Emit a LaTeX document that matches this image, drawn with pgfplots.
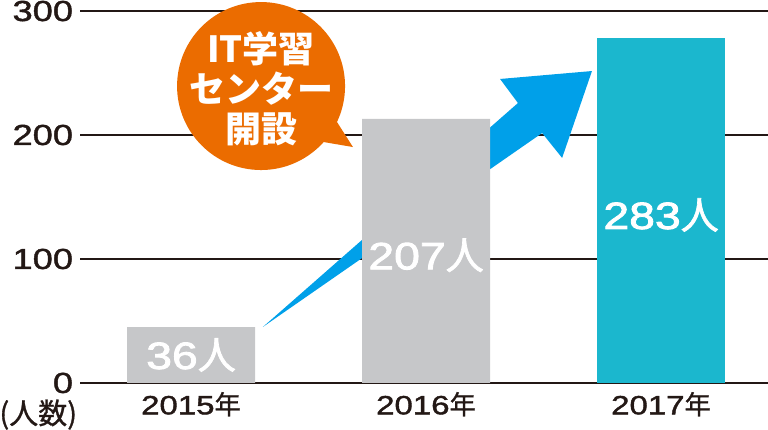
\documentclass[border=0pt]{standalone}
\usepackage{fontspec}
\setmainfont{Liberation Sans}[FakeStretch=1.25, FakeBold=1.5]
\newfontfamily\barnum{Liberation Sans}[FakeStretch=1.22, FakeBold=2.2]
\newfontfamily\cjk{Noto Sans CJK JP}[FakeBold=1]
\newfontfamily\cjkmed{Noto Sans CJK JP}[FakeBold=1.8]
\newfontfamily\cjkb{Noto Sans CJK JP}
\usepackage{pgfplots}
\pgfplotsset{compat=1.18}
\definecolor{bargrey}{RGB}{198,199,201}
\definecolor{barteal}{RGB}{27,183,206}
\definecolor{arrowblue}{RGB}{0,160,233}
\definecolor{bubbleorange}{RGB}{235,108,0}
\definecolor{ink}{RGB}{35,24,21}
\begin{document}
\begin{tikzpicture}
\begin{axis}[
  scale only axis, width=344pt, height=186pt,
  xmin=-0.472, xmax=2.455, ymin=0, ymax=300,
  axis line style={draw=none},
  ytick={0,100,200,300}, xtick={0,1,2},
  xticklabels={2015{\cjk 年}, 2016{\cjk 年}, 2017{\cjk 年}},
  major tick length=0pt,
  ymajorgrids, grid style={ink, line width=0.6pt},
  yticklabel style={text=ink, font=\fontsize{14.5}{14.5}\selectfont, /pgf/number format/assume math mode=true},
  xticklabel style={text=ink, font=\fontsize{13.2}{13.5}\selectfont, yshift=-1pt},
  clip=false,
  ybar, bar width=64pt, bar shift=0pt,
]
% arrow (drawn behind bars)
\fill[arrowblue] (axis cs:0.306,45.2) -- (axis cs:1.391,225.8) -- (axis cs:1.315,245.2) -- (axis cs:1.706,251.6) -- (axis cs:1.579,181.5) -- (axis cs:1.494,201.6) -- cycle;
\addplot[fill=bargrey, draw=none] coordinates {(0,45) (1,213)};
\addplot[fill=barteal, draw=none] coordinates {(2,278)};
% bar labels
\node[white, font=\barnum\fontsize{19}{19}\selectfont] at (axis cs:0,22.6) {36{\cjkmed 人}};
\node[white, font=\barnum\fontsize{19}{19}\selectfont] at (axis cs:1,103) {207{\cjkmed 人}};
\node[white, font=\barnum\fontsize{19}{19}\selectfont] at (axis cs:2,135.5) {283{\cjkmed 人}};
% speech bubble
\fill[bubbleorange] (axis cs:0.298,239.5) circle[radius=42pt];
\fill[bubbleorange] (axis cs:0.298,239.5) -- (axis cs:0.621,210.5) -- (axis cs:0.689,190.3) -- (axis cs:0.562,194.4) -- cycle;
\node[white, align=center, font=\cjkb\bfseries\fontsize{18}{20}\selectfont] at (axis cs:0.298,237.5) {IT学習\\センター\\開設};
% unit label
\node[text=ink, font=\cjk\fontsize{14.5}{14.5}\selectfont] at (axis cs:-0.65,-25.5) {(人数)};
\coordinate (bbsw) at (axis cs:-0.8128,-37.9);
\coordinate (bbne) at (axis cs:2.455,308.9);
\end{axis}
\pgfresetboundingbox
\useasboundingbox (bbsw) rectangle (bbne);
\end{tikzpicture}
\end{document}
